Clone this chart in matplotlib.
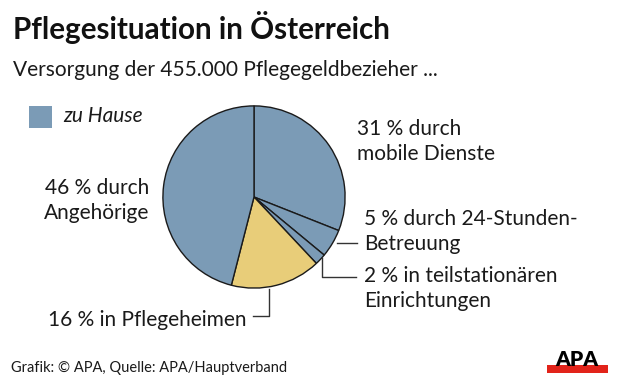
import matplotlib
matplotlib.use("Agg")
import matplotlib.pyplot as plt
from matplotlib.patches import Rectangle

plt.rcParams['font.family'] = ['Lato', 'DejaVu Sans']

# Data
categories = ["mobile Dienste", "24-Stunden-Betreuung", "teilstationäre Einrichtungen",
              "Pflegeheime", "Angehörige"]
values = [31, 5, 2, 16, 46]
colors_map = {"zu Hause": "#7b9bb6", "Pflegeheim": "#e8cd79"}
slice_groups = ["zu Hause", "zu Hause", "zu Hause", "Pflegeheim", "zu Hause"]

title = "Pflegesituation in Österreich"
subtitle = "Versorgung der 455.000 Pflegegeldbezieher ..."
source = "Grafik: © APA, Quelle: APA/Hauptverband"

W, H = 620, 388
fig = plt.figure(figsize=(W / 100, H / 100), dpi=100)

# pie axes: center (254,197) px, radius 92 px
cx, cy, r = 254, 197, 92
pax = fig.add_axes([(cx - r) / W, (H - cy - r) / H, 2 * r / W, 2 * r / H])
pax.pie(values, colors=[colors_map[g] for g in slice_groups], startangle=90,
        counterclock=False, radius=1,
        wedgeprops=dict(edgecolor="#1a1a1a", linewidth=1.0))
pax.set_xlim(-1.01, 1.01)
pax.set_ylim(-1.01, 1.01)
pax.axis("off")

ax2 = fig.add_axes([0, 0, 1, 1], zorder=5)
ax2.set_xlim(0, W)
ax2.set_ylim(H, 0)
ax2.axis("off")
ax2.patch.set_alpha(0)

txt = "#1a1a1a"
ax2.text(13, 39, title, fontsize=21.3, fontweight="bold", color="#111111", va="baseline")
ax2.text(13, 76, subtitle, fontsize=15, color=txt, va="baseline")

# legend
ax2.add_patch(Rectangle((29, 106), 23, 22, color=colors_map["zu Hause"], lw=0))
ax2.text(63, 122, "zu Hause", fontsize=15, style="italic", color=txt, va="baseline")

fs = 15
ls = 25
def label(x, y, lines, ha="left"):
    for i, l in enumerate(lines):
        ax2.text(x, y + i * ls, l, fontsize=fs, color=txt, ha=ha, va="baseline")

label(357, 135, [f"{values[0]} % durch", "mobile Dienste"])
label(149, 194, [f"{values[4]} % durch", "Angehörige"], ha="right")
label(364, 225, [f"{values[1]} % durch 24-Stunden-", "Betreuung"])
label(364, 282, [f"{values[2]} % in teilstationären", "Einrichtungen"])
label(246, 326, [f"{values[3]} % in Pflegeheimen"], ha="right")

lc = "#333333"
ax2.plot([337, 357], [243, 243], color=lc, lw=1)
ax2.plot([322, 322, 356], [258, 277, 277], color=lc, lw=1)
ax2.plot([269, 269, 253], [289, 316, 316], color=lc, lw=1)

ax2.text(11, 372, source, fontsize=10.5, color=txt, va="baseline")

# APA logo
ax2.text(577, 366, "APA", fontsize=15, fontweight="heavy", color="black",
         ha="center", va="baseline")
ax2.add_patch(Rectangle((547, 365), 61, 8, color="#e2231a", lw=0))

fig.savefig("out.png", dpi=100)
